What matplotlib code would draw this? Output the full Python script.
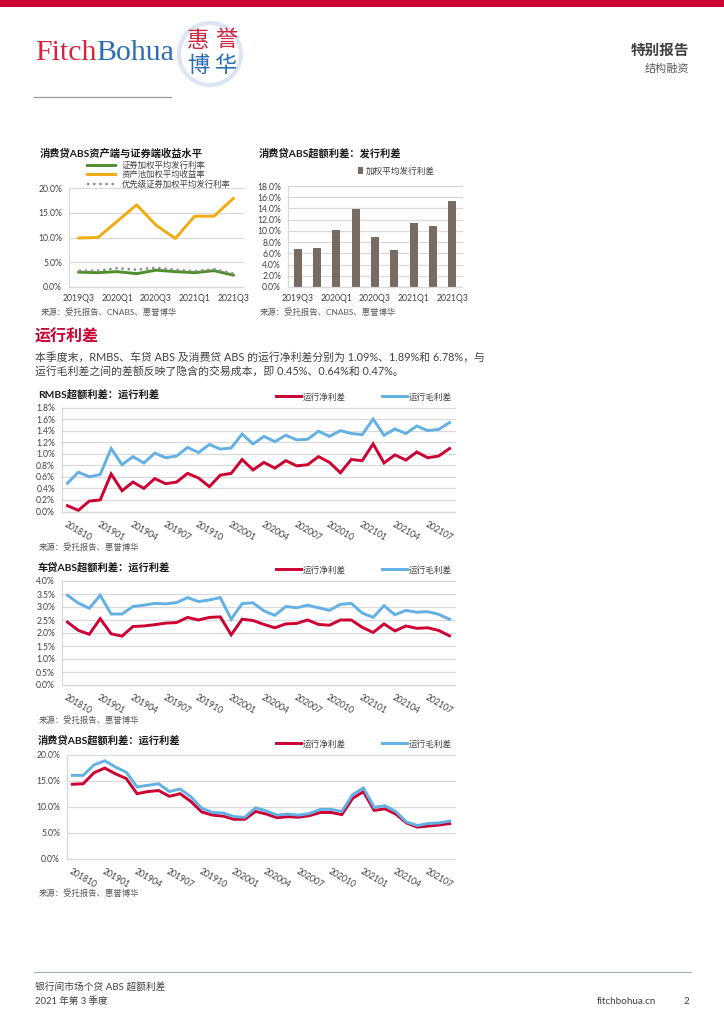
import matplotlib
matplotlib.use("Agg")
import numpy as np
from matplotlib import pyplot as plt
from matplotlib.patches import Circle, Rectangle

plt.rcParams['font.family'] = ['Lato', 'Noto Sans CJK SC', 'DejaVu Sans']

W = 724
H = 1024
RED = '#CC0033'
BLUE = '#62B0E4'
GREEN = '#4E8F2C'
GOLD = '#F0AB12'
DOTS = '#8C8C8C'
BROWN = '#786B62'
GRID = '#D9D9D9'
TXT = '#404040'

quarters = ['2019Q3', '2019Q4', '2020Q1', '2020Q2', '2020Q3', '2020Q4', '2021Q1', '2021Q2', '2021Q3']
sec_rate = [3.0, 2.9, 3.1, 2.7, 3.4, 3.1, 2.9, 3.3, 2.4]
pool_yield = [9.9, 10.0, 13.3, 16.6, 12.5, 9.8, 14.3, 14.3, 17.9]
senior_rate = [3.3, 3.3, 3.8, 3.5, 3.9, 3.5, 3.2, 3.6, 2.7]
issue_spread = [6.8, 7.0, 10.1, 13.9, 9.0, 6.6, 11.4, 10.9, 15.3]

months = ['201810', '201811', '201812', '201901', '201902', '201903', '201904', '201905', '201906',
          '201907', '201908', '201909', '201910', '201911', '201912', '202001', '202002', '202003',
          '202004', '202005', '202006', '202007', '202008', '202009', '202010', '202011', '202012',
          '202101', '202102', '202103', '202104', '202105', '202106', '202107', '202108', '202109']

rmbs_net = [0.10, 0.02, 0.18, 0.20, 0.65, 0.36, 0.51, 0.40, 0.57, 0.48, 0.51, 0.66,
            0.58, 0.43, 0.63, 0.66, 0.90, 0.72, 0.85, 0.75, 0.88, 0.79, 0.81, 0.95,
            0.85, 0.67, 0.90, 0.88, 1.17, 0.84, 0.98, 0.89, 1.03, 0.93, 0.96, 1.09]
rmbs_gross = [0.49, 0.68, 0.60, 0.64, 1.09, 0.81, 0.95, 0.84, 1.01, 0.93, 0.96, 1.11,
              1.02, 1.16, 1.08, 1.10, 1.34, 1.17, 1.30, 1.21, 1.32, 1.24, 1.25, 1.39,
              1.30, 1.40, 1.35, 1.33, 1.60, 1.32, 1.43, 1.35, 1.48, 1.40, 1.42, 1.54]
auto_net = [2.42, 2.10, 1.95, 2.55, 1.97, 1.88, 2.25, 2.27, 2.32, 2.38, 2.40, 2.60,
            2.50, 2.60, 2.62, 1.93, 2.53, 2.48, 2.33, 2.20, 2.35, 2.37, 2.50, 2.33,
            2.30, 2.50, 2.50, 2.22, 2.02, 2.35, 2.08, 2.27, 2.18, 2.20, 2.10, 1.89]
auto_gross = [3.45, 3.15, 2.95, 3.45, 2.73, 2.73, 3.02, 3.07, 3.14, 3.12, 3.17, 3.36,
              3.21, 3.27, 3.36, 2.53, 3.13, 3.16, 2.85, 2.68, 3.02, 2.97, 3.07, 2.97,
              2.87, 3.10, 3.14, 2.77, 2.60, 3.05, 2.70, 2.87, 2.80, 2.82, 2.72, 2.53]
cons_net = [14.3, 14.4, 16.5, 17.4, 16.3, 15.4, 12.5, 12.9, 13.1, 12.0, 12.5, 11.0,
            9.0, 8.4, 8.2, 7.6, 7.6, 9.1, 8.6, 7.9, 8.1, 8.0, 8.3, 8.9,
            8.9, 8.5, 11.6, 12.9, 9.3, 9.6, 8.6, 6.9, 6.1, 6.3, 6.5, 6.78]
cons_gross = [16.0, 16.0, 18.0, 18.8, 17.6, 16.6, 13.8, 14.1, 14.4, 12.9, 13.4, 11.9,
              9.7, 8.9, 8.8, 8.1, 8.0, 9.8, 9.2, 8.4, 8.6, 8.4, 8.7, 9.5,
              9.5, 9.1, 12.3, 13.6, 9.9, 10.2, 9.1, 7.1, 6.4, 6.8, 6.9, 7.25]

fig = plt.figure(figsize=(W / 100, H / 100), dpi=100, facecolor='white')


def put(x, y, s, size=6.2, color=TXT, weight='normal', ha='left', va='center', family=None):
    kw = {}
    if family is not None:
        kw['family'] = family
    fig.text(x / W, 1 - y / H, s, fontsize=size, color=color, fontweight=weight, ha=ha, va=va, **kw)


def make_ax(x0, y_top, x1, y_bottom):
    ax = fig.add_axes([x0 / W, 1 - y_bottom / H, (x1 - x0) / W, (y_bottom - y_top) / H])
    for k in ['top', 'right']:
        ax.spines[k].set_visible(False)
    for k in ['left', 'bottom']:
        ax.spines[k].set_color(GRID)
        ax.spines[k].set_linewidth(0.9)
    ax.grid(axis='y', color=GRID, linewidth=0.9, clip_on=False)
    ax.set_axisbelow(True)
    ax.tick_params(length=0, labelsize=6.2, labelcolor=TXT)
    return ax


def set_y(ax, ymax, step, dec=1):
    ticks = np.arange(0, ymax + step / 2, step)
    ax.set_ylim(0, ymax)
    ax.set_yticks(ticks)
    ax.set_yticklabels([f'{t:.{dec}f}%' for t in ticks])
    ax.tick_params(axis='y', pad=5)


def spread_panel(box, net, gross, ymax, step, title, title_y, source_y, legend_y):
    ax = make_ax(*box)
    x = np.arange(len(months))
    ax.plot(x, net, color=RED, lw=2.1, solid_joinstyle='miter', label='运行净利差', clip_on=False)
    ax.plot(x, gross, color=BLUE, lw=2.1, solid_joinstyle='miter', label='运行毛利差', clip_on=False)
    ax.set_xlim(-0.5, len(months) - 0.5)
    set_y(ax, ymax, step)
    ax.set_xticks(x[::3])
    ax.set_xticklabels(months[::3], rotation=-30, ha='left', rotation_mode='anchor')
    ax.tick_params(axis='x', pad=6)
    fig.legend(*ax.get_legend_handles_labels(), ncol=2, frameon=False, fontsize=6.2, labelcolor=TXT,
               loc='center left', bbox_to_anchor=(276 / W, 1 - legend_y / H),
               handlelength=2.9, handletextpad=0.2, columnspacing=4.2,
               borderpad=0, borderaxespad=0)
    put(38, title_y, title, size=7.4, color='#1A1A1A', weight='bold')
    put(39, source_y, '来源：受托报告、惠誉博华', size=6.0, color='#595959')
    return ax


# header and footer furniture
fig.add_artist(Rectangle((0, 1 - 7 / H), 1, 7 / H, transform=fig.transFigure, color=RED, lw=0))
put(35, 53, 'Fitch', size=21.5, color='#D4253F', family='Liberation Serif')
put(96, 53, 'Bohua', size=21.5, color='#2A6DB5', family='Liberation Serif')

seal = fig.add_axes([176 / W, 1 - 88 / H, 68 / W, 68 / H])
seal.set_xlim(0, 68)
seal.set_ylim(68, 0)
seal.axis('off')
seal.add_patch(Circle((34, 34), 31, fc='white', ec='#DDE4F2', lw=3))
seal.text(22, 21, '惠', color='#D4253F', fontsize=16, ha='center', va='center')
seal.text(50, 20, '誉', color='#D4253F', fontsize=16, ha='center', va='center')
seal.text(22, 46, '博', color='#2A6DB5', fontsize=16, ha='center', va='center')
seal.text(49, 46, '华', color='#2A6DB5', fontsize=16, ha='center', va='center')

fig.add_artist(plt.Line2D([34 / W, 171 / W], [1 - 96.5 / H] * 2, color='#9A9A9A', lw=0.9))
put(689, 51, '特别报告', size=10.5, color='#404040', weight='bold', ha='right')
put(689, 68, '结构融资', size=8.0, color='#595959', ha='right')

fig.add_artist(plt.Line2D([34 / W, 691 / W], [1 - 971.5 / H] * 2, color='#A9B2BC', lw=0.9))
put(35, 987, '银行间市场个贷 ABS 超额利差', size=7.0)
put(35, 1001, '2021 年第 3 季度', size=6.8)
put(597, 1001, 'fitchbohua.cn', size=7.1)
put(689, 1001, '2', size=7.0, ha='right')

# body text
put(35, 337, '运行利差', size=11.5, color=RED, weight='bold')
put(35, 357, '本季度末，RMBS、车贷 ABS 及消费贷 ABS 的运行净利差分别为 1.09%、1.89%和 6.78%，与', size=7.8)
put(35, 371, '运行毛利差之间的差额反映了隐含的交易成本，即 0.45%、0.64%和 0.47%。', size=7.8)

# top left
ax1 = make_ax(69, 188, 243, 287)
x = np.arange(len(quarters))
ax1.plot(x, sec_rate, color=GREEN, lw=2.1, label='证券加权平均发行利率')
ax1.plot(x, pool_yield, color=GOLD, lw=2.1, label='资产池加权平均收益率')
ax1.plot(x, senior_rate, color=DOTS, lw=1.7, ls=(0, (1, 1.6)), label='优先级证券加权平均发行利率')
ax1.set_xlim(-0.5, len(quarters) - 0.5)
set_y(ax1, 20, 5)
ax1.set_xticks(x[::2])
ax1.set_xticklabels(quarters[::2])
ax1.tick_params(axis='x', pad=5)
fig.legend(*ax1.get_legend_handles_labels(), frameon=False, fontsize=6.0, labelcolor=TXT,
           loc='upper left', bbox_to_anchor=(87 / W, 1 - 160 / H), handlelength=3.35,
           handletextpad=0.85, labelspacing=0.12, borderpad=0, borderaxespad=0)
put(40, 154, '消费贷ABS资产端与证券端收益水平', size=7.4, color='#1A1A1A', weight='bold')
put(41, 312, '来源：受托报告、CNABS、惠誉博华', size=6.0, color='#595959')

# top right
ax2 = make_ax(288, 186, 462, 287)
x = np.arange(len(quarters))
ax2.bar(x, issue_spread, width=0.42, color=BROWN, label='加权平均发行利差')
ax2.set_xlim(-0.5, len(quarters) - 0.5)
set_y(ax2, 18, 2)
ax2.set_xticks(x[::2])
ax2.set_xticklabels(quarters[::2])
ax2.tick_params(axis='x', pad=5)
fig.legend(*ax2.get_legend_handles_labels(), frameon=False, fontsize=6.2, labelcolor=TXT,
           loc='center left', bbox_to_anchor=(358 / W, 1 - 171 / H), handlelength=0.6,
           handleheight=0.7, handletextpad=0.3, borderpad=0, borderaxespad=0)
put(259, 154, '消费贷ABS超额利差：发行利差', size=7.4, color='#1A1A1A', weight='bold')
put(260, 312, '来源：受托报告、CNABS、惠誉博华', size=6.0, color='#595959')

# monthly panels
spread_panel((62, 407.5, 455, 511.5), rmbs_net, rmbs_gross, 1.8, 0.2,
             'RMBS超额利差：运行利差', 395, 547, 397)
spread_panel((62, 581, 455, 685), auto_net, auto_gross, 4.0, 0.5,
             '车贷ABS超额利差：运行利差', 568, 720, 570)
spread_panel((67, 754.5, 455, 859), cons_net, cons_gross, 20, 5,
             '消费贷ABS超额利差：运行利差', 741, 893, 744)

fig.savefig('out.png', dpi=100)
